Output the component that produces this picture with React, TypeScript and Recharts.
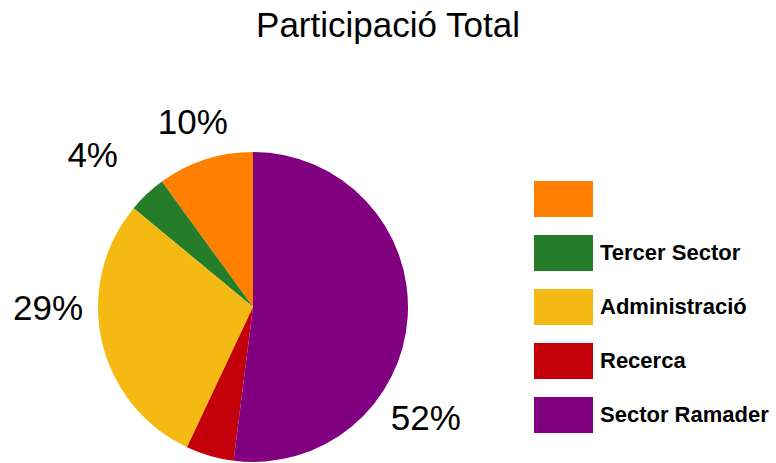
import React from "react";
import { PieChart, Pie, Cell, Legend } from "recharts";

const categories = ["", "Tercer Sector", "Administració", "Recerca", "Sector Ramader"];
const values = [10, 4, 29, 5, 52];
const colors = ["#FF8000", "#257D2A", "#F4BA13", "#C3000A", "#800080"];

const data = categories.map((name, i) => ({ name, value: values[i] }));

const FONT = "'Liberation Sans', Helvetica, Arial, sans-serif";
const RAD = Math.PI / 180;

// label placement tweaks (angle / distance overrides, hidden labels) to mirror the reference layout
const labelAngleOverride: Record<number, number> = { 1: 136.5, 2: 180, 4: -32.5 };
const labelGapOverride: Record<number, number> = { 0: 40, 1: 66 };
const hiddenLabels = new Set([3]);

const renderLabel = (props: any) => {
  const { cx, cy, midAngle, outerRadius, percent, index } = props;
  if (hiddenLabels.has(index)) return null;
  const angle = labelAngleOverride[index] ?? midAngle;
  const r = outerRadius + (labelGapOverride[index] ?? 50);
  const x = cx + r * Math.cos(-angle * RAD);
  const y = cy + r * Math.sin(-angle * RAD);
  return (
    <text
      x={x}
      y={y}
      textAnchor="middle"
      dominantBaseline="central"
      fill="#000"
      fontSize={35}
      fontFamily={FONT}
    >
      {`${Math.round(percent * 100)}%`}
    </text>
  );
};

const renderLegend = (props: any) => {
  const payload = [...(props.payload || [])].sort(
    (a: any, b: any) => categories.indexOf(a.value) - categories.indexOf(b.value)
  );
  return (
    <div style={{ fontFamily: FONT }}>
      {payload.map((entry: any, i: number) => (
        <div
          key={i}
          style={{ display: "flex", alignItems: "center", height: 36, marginBottom: 18 }}
        >
          <div style={{ width: 59, height: 36, background: entry.color, flex: "none" }} />
          <span
            style={{
              marginLeft: 7,
              fontSize: 22,
              fontWeight: "bold",
              color: "#000",
              whiteSpace: "nowrap",
            }}
          >
            {entry.value}
          </span>
        </div>
      ))}
    </div>
  );
};

export default function App() {
  return (
    <div style={{ position: "absolute", left: 0, top: 0, width: 776, height: 463, background: "#fff" }}>
      <div
        style={{
          position: "absolute",
          top: 7,
          left: 0,
          width: 776,
          textAlign: "center",
          fontFamily: FONT,
          fontSize: 35,
          lineHeight: "35px",
          color: "#000",
        }}
      >
        Participació Total
      </div>
      <PieChart width={776} height={463} style={{ position: "absolute", left: 0, top: 0 }}>
        <Pie
          data={data}
          dataKey="value"
          nameKey="name"
          cx={248}
          cy={302}
          outerRadius={155}
          startAngle={90}
          endAngle={450}
          stroke="none"
          label={renderLabel}
          labelLine={false}
          isAnimationActive={false}
        >
          {data.map((d, i) => (
            <Cell key={i} fill={colors[i]} />
          ))}
        </Pie>
        <Legend
          content={renderLegend}
          itemSorter={null as any}
          wrapperStyle={{ position: "absolute", left: 534, top: 181, width: 240 }}
        />
      </PieChart>
    </div>
  );
}
